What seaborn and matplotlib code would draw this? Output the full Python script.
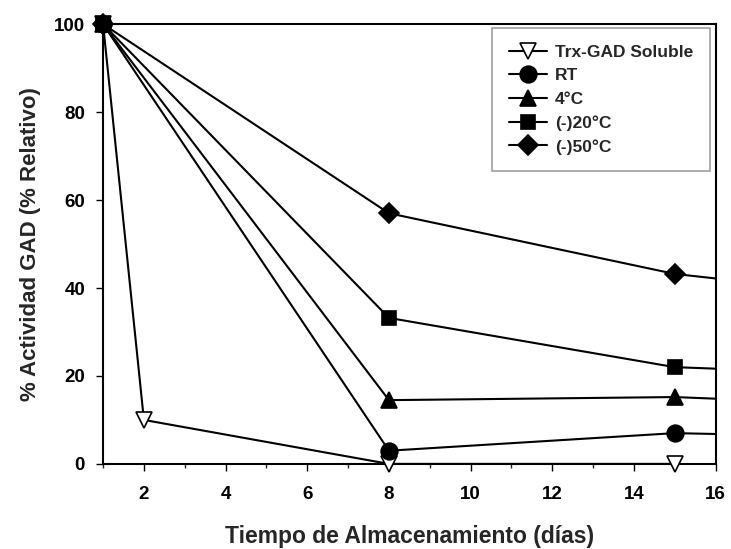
import numpy as np
import pandas as pd
import seaborn as sns
import matplotlib.pyplot as plt
from matplotlib.lines import Line2D
from matplotlib.ticker import MultipleLocator

# datos (el ultimo punto de cada serie queda fuera del eje, recortado)
dias_sol = [1, 2, 8, 15]
trx_sol = [100, 10, 0, 0]

dias = [1, 8, 15, 22]
rt = [100, 3, 7, 5.6]
c4 = [100, 14.5, 15.2, 12.6]
c20 = [100, 33.2, 22, 19.6]
c50 = [100, 57, 43.2, 36]

series = [
    ('Trx-GAD Soluble', dias_sol, trx_sol, 'v', 'white'),
    ('RT', dias, rt, 'o', 'black'),
    ('4°C', dias, c4, '^', 'black'),
    ('(-)20°C', dias, c20, 's', 'black'),
    ('(-)50°C', dias, c50, 'D', 'black'),
]
tamanos = {'v': 11, 'o': 12, '^': 11, 's': 10.5, 'D': 10.5}

sns.set_theme(style="ticks")
plt.rcParams['font.family'] = ['Liberation Sans', 'DejaVu Sans']
plt.rcParams['font.weight'] = 'bold'

fig = plt.figure(figsize=(7.31, 5.49), dpi=100)
ax = fig.add_axes([0.141, 0.155, 0.838, 0.801])

handles = []
for nombre, x, y, m, fc in series:
    df = pd.DataFrame({'x': x, 'y': y})
    sns.lineplot(data=df, x='x', y='y', ax=ax, color='black', linewidth=1.5,
                 sort=False, zorder=2)
    vis = df[df['x'] <= 16]
    ax.plot(vis['x'], vis['y'], linestyle='none', marker=m, markersize=tamanos[m],
            markerfacecolor=fc, markeredgecolor='black', markeredgewidth=1.2,
            clip_on=False, zorder=3)
    handles.append(Line2D([0], [0], color='black', linewidth=1.5, marker=m,
                          markersize=tamanos[m], markerfacecolor=fc,
                          markeredgecolor='black', markeredgewidth=1.2, label=nombre))

ax.set_xlim(1, 16)
ax.set_ylim(0, 100)
ax.set_xticks([2, 4, 6, 8, 10, 12, 14, 16])
ax.xaxis.set_minor_locator(MultipleLocator(1))
ax.set_yticks([0, 20, 40, 60, 80, 100])
for s in ax.spines.values():
    s.set_linewidth(1.5)
    s.set_color('black')
ax.tick_params(axis='both', which='major', direction='out', length=5, width=1,
               labelsize=13.5, colors='black')
ax.tick_params(axis='x', which='major', pad=11)
ax.tick_params(axis='y', which='major', pad=8)
ax.tick_params(axis='x', which='minor', direction='out', length=3, width=1)
for lab in ax.get_xticklabels() + ax.get_yticklabels():
    lab.set_fontweight('bold')

ax.set_xlabel('Tiempo de Almacenamiento (días)', fontsize=16.5, fontweight='bold', labelpad=16)
ax.set_ylabel('% Actividad GAD (% Relativo)', fontsize=16, fontweight='bold', labelpad=9)

leg = ax.legend(handles=handles, loc='upper right', fontsize=12.5, frameon=True,
                fancybox=False, edgecolor='#888888', borderpad=0.95, labelspacing=0.48,
                handlelength=2.2, handletextpad=0.45, borderaxespad=0,
                bbox_to_anchor=(0.990, 0.991))
leg.get_frame().set_linewidth(1.2)
for t in leg.get_texts():
    t.set_fontweight('bold')

fig.savefig('out.png', dpi=100)
